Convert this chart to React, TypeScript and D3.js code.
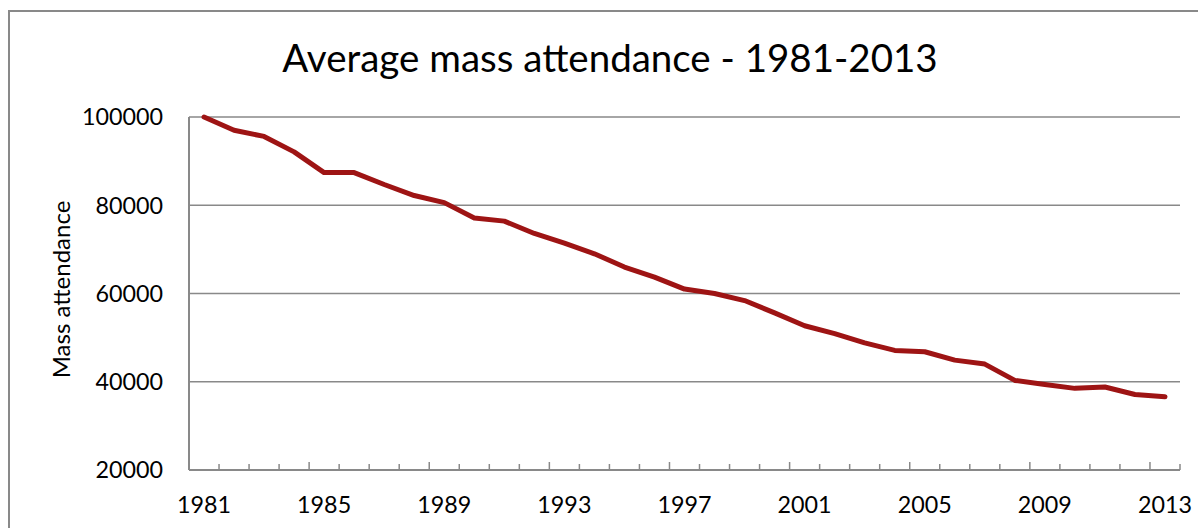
import React from "react";
import * as d3 from "d3";

const years = d3.range(1981, 2014).map(String);
const attendance = [
  100000, 97000, 95600, 92100, 87400, 87400, 84700, 82200, 80600, 77100,
  76400, 73600, 71400, 69000, 66000, 63700, 61000, 60000, 58400, 55600,
  52700, 50900, 48800, 47100, 46800, 44900, 44000, 40300, 39400, 38500,
  38800, 37100, 36600,
];
const yTicks = [20000, 40000, 60000, 80000, 100000];
const labelEvery = 4;

const W = 1198;
const H = 528;
const plot = { left: 189, right: 1180, top: 117, bottom: 470 };
const FONT = "Lato, 'Open Sans', sans-serif";
const GRID = "#898989";
const LINE = "#9e1414";

const App = () => {
  const x = d3.scaleBand().domain(years).range([plot.left, plot.right]);
  const y = d3.scaleLinear().domain([20000, 100000]).range([plot.bottom, plot.top]);
  const bw = x.bandwidth();

  const line = d3
    .line<number>()
    .x((_, i) => (x(years[i]) as number) + bw / 2)
    .y((d) => y(d));

  // tick marks sit on the band edges, every 4th is a bit longer
  const edges = d3.range(1, years.length + 1);

  return (
    <svg
      width={W}
      height={H}
      style={{ position: "absolute", left: 0, top: 0, background: "#fff" }}
    >
      <rect x={9} y={11} width={W + 20} height={H + 20} fill="#fff" stroke={GRID} strokeWidth={2} />

      <text x={610} y={72} textAnchor="middle" fontFamily={FONT} fontSize={38.5} fill="#000">
        Average mass attendance - 1981-2013
      </text>

      {yTicks.map((t) => (
        <g key={t}>
          {t > 20000 && (
            <line x1={plot.left} x2={plot.right} y1={y(t)} y2={y(t)} stroke={GRID} strokeWidth={1.5} />
          )}
          <text
            x={163}
            y={y(t)}
            dy="0.36em"
            textAnchor="end"
            fontFamily={FONT}
            fontSize={23.3}
            fill="#000"
          >
            {t}
          </text>
        </g>
      ))}

      <text
        transform={`translate(70,${(plot.top + plot.bottom) / 2 - 4}) rotate(-90)`}
        textAnchor="middle"
        fontFamily={FONT}
        fontSize={24}
        fill="#000"
      >
        Mass attendance
      </text>

      {/* axes */}
      <line x1={plot.left} x2={plot.left} y1={plot.top} y2={plot.bottom} stroke={GRID} strokeWidth={2} />
      <line x1={plot.left} x2={plot.right} y1={plot.bottom} y2={plot.bottom} stroke={GRID} strokeWidth={2} />
      {edges.map((i) => {
        const ex = plot.left + i * bw;
        const len = i % labelEvery === 0 ? 8 : 6;
        return (
          <line key={i} x1={ex} x2={ex} y1={plot.bottom} y2={plot.bottom - len} stroke={GRID} strokeWidth={1.5} />
        );
      })}
      {years.map((yr, i) =>
        i % labelEvery === 0 ? (
          <text
            key={yr}
            x={(x(yr) as number) + bw / 2}
            y={513}
            textAnchor="middle"
            fontFamily={FONT}
            fontSize={23.3}
            fill="#000"
          >
            {yr}
          </text>
        ) : null
      )}

      <path
        d={line(attendance) || ""}
        fill="none"
        stroke={LINE}
        strokeWidth={5}
        strokeLinejoin="round"
        strokeLinecap="round"
      />
    </svg>
  );
};

export default App;
